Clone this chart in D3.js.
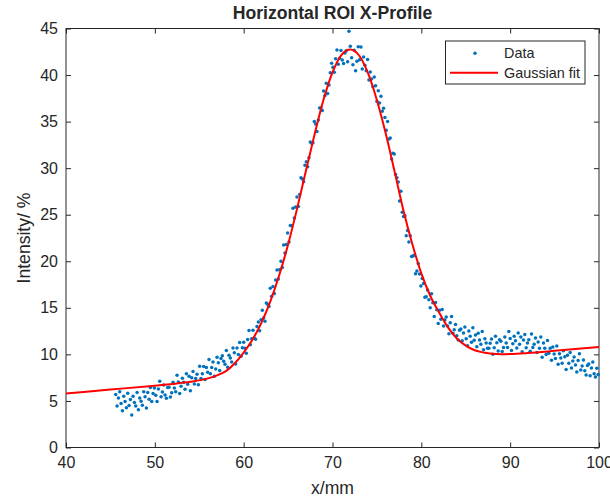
<!DOCTYPE html>
<html>
<head>
<meta charset="utf-8">
<script src="https://cdn.jsdelivr.net/npm/d3@7/dist/d3.min.js"></script>
<style>
  body { margin: 0; background: #fff; }
  text { font-family: "Liberation Sans", Arial, Helvetica, sans-serif; fill: #262626; }
</style>
</head>
<body>
<div id="chart"></div>
<script>
// measured profile (x in mm, intensity in %)
var dataX = [
  45.60, 45.75, 45.90, 46.05, 46.20, 46.35, 46.50, 46.65, 46.80, 46.95,
  47.10, 47.25, 47.40, 47.55, 47.70, 47.85, 48.00, 48.15, 48.30, 48.45,
  48.60, 48.75, 48.90, 49.05, 49.20, 49.35, 49.50, 49.65, 49.80, 49.95,
  50.10, 50.25, 50.40, 50.55, 50.70, 50.85, 51.00, 51.15, 51.30, 51.45,
  51.60, 51.75, 51.90, 52.05, 52.20, 52.35, 52.50, 52.65, 52.80, 52.95,
  53.10, 53.25, 53.40, 53.55, 53.70, 53.85, 54.00, 54.15, 54.30, 54.45,
  54.60, 54.75, 54.90, 55.05, 55.20, 55.35, 55.50, 55.65, 55.80, 55.95,
  56.10, 56.25, 56.40, 56.55, 56.70, 56.85, 57.00, 57.15, 57.30, 57.45,
  57.60, 57.75, 57.90, 58.05, 58.20, 58.35, 58.50, 58.65, 58.80, 58.95,
  59.10, 59.25, 59.40, 59.55, 59.70, 59.85, 60.00, 60.15, 60.30, 60.45,
  60.60, 60.75, 60.90, 61.05, 61.20, 61.35, 61.50, 61.65, 61.80, 61.95,
  62.10, 62.25, 62.40, 62.55, 62.70, 62.85, 63.00, 63.15, 63.30, 63.45,
  63.60, 63.75, 63.90, 64.05, 64.20, 64.35, 64.50, 64.65, 64.80, 64.95,
  65.10, 65.25, 65.40, 65.55, 65.70, 65.85, 66.00, 66.15, 66.30, 66.45,
  66.60, 66.75, 66.90, 67.05, 67.20, 67.35, 67.50, 67.65, 67.80, 67.95,
  68.10, 68.25, 68.40, 68.55, 68.70, 68.85, 69.00, 69.15, 69.30, 69.45,
  69.60, 69.75, 69.90, 70.05, 70.20, 70.35, 70.50, 70.65, 70.80, 70.95,
  71.10, 71.25, 71.40, 71.55, 71.70, 71.85, 72.00, 72.15, 72.30, 72.45,
  72.60, 72.75, 72.90, 73.05, 73.20, 73.35, 73.50, 73.65, 73.80, 73.95,
  74.10, 74.25, 74.40, 74.55, 74.70, 74.85, 75.00, 75.15, 75.30, 75.45,
  75.60, 75.75, 75.90, 76.05, 76.20, 76.35, 76.50, 76.65, 76.80, 76.95,
  77.10, 77.25, 77.40, 77.55, 77.70, 77.85, 78.00, 78.15, 78.30, 78.45,
  78.60, 78.75, 78.90, 79.05, 79.20, 79.35, 79.50, 79.65, 79.80, 79.95,
  80.10, 80.25, 80.40, 80.55, 80.70, 80.85, 81.00, 81.15, 81.30, 81.45,
  81.60, 81.75, 81.90, 82.05, 82.20, 82.35, 82.50, 82.65, 82.80, 82.95,
  83.10, 83.25, 83.40, 83.55, 83.70, 83.85, 84.00, 84.15, 84.30, 84.45,
  84.60, 84.75, 84.90, 85.05, 85.20, 85.35, 85.50, 85.65, 85.80, 85.95,
  86.10, 86.25, 86.40, 86.55, 86.70, 86.85, 87.00, 87.15, 87.30, 87.45,
  87.60, 87.75, 87.90, 88.05, 88.20, 88.35, 88.50, 88.65, 88.80, 88.95,
  89.10, 89.25, 89.40, 89.55, 89.70, 89.85, 90.00, 90.15, 90.30, 90.45,
  90.60, 90.75, 90.90, 91.05, 91.20, 91.35, 91.50, 91.65, 91.80, 91.95,
  92.10, 92.25, 92.40, 92.55, 92.70, 92.85, 93.00, 93.15, 93.30, 93.45,
  93.60, 93.75, 93.90, 94.05, 94.20, 94.35, 94.50, 94.65, 94.80, 94.95,
  95.10, 95.25, 95.40, 95.55, 95.70, 95.85, 96.00, 96.15, 96.30, 96.45,
  96.60, 96.75, 96.90, 97.05, 97.20, 97.35, 97.50, 97.65, 97.80, 97.95,
  98.10, 98.25, 98.40, 98.55, 98.70, 98.85, 99.00, 99.15, 99.30, 99.45,
  99.60, 99.75, 99.90
];
var dataY = [
  5.68, 4.45, 5.32, 5.98, 4.72, 3.96, 5.50, 4.94, 4.28, 5.82,
  4.52, 5.15, 3.50, 5.51, 4.84, 4.47, 5.90, 4.06, 5.32, 4.98,
  4.54, 6.00, 5.46, 4.23, 5.90, 5.18, 6.45, 4.93, 5.80, 6.38,
  5.62, 4.95, 6.28, 7.11, 5.44, 5.97, 6.70, 5.65, 5.29, 6.44,
  6.48, 5.43, 5.87, 7.02, 6.40, 5.98, 7.75, 7.03, 5.80, 6.58,
  7.44, 7.00, 6.26, 7.92, 6.78, 7.64, 6.10, 7.48, 8.15, 6.83,
  7.40, 7.88, 6.75, 8.73, 7.42, 7.91, 8.70, 7.29, 8.58, 8.07,
  9.45, 7.93, 8.60, 9.18, 7.65, 8.43, 9.70, 9.09, 8.28, 9.57,
  9.86, 9.25, 8.94, 10.43, 8.62, 9.91, 9.60, 9.19, 10.68, 10.17,
  8.97, 10.68, 9.98, 11.29, 9.79, 10.70, 11.30, 10.67, 10.13, 11.60,
  12.56, 11.03, 11.69, 12.59, 11.76, 11.63, 13.00, 13.47, 12.54, 13.71,
  14.74, 13.90, 13.56, 15.52, 15.38, 15.14, 17.10, 16.25, 17.30, 16.55,
  18.00, 19.05, 18.10, 19.08, 20.00, 19.33, 21.75, 20.88, 21.80, 23.03,
  22.08, 23.85, 23.82, 25.69, 24.66, 25.83, 26.90, 25.89, 27.17, 28.96,
  28.84, 28.53, 30.31, 30.69, 30.16, 31.13, 32.80, 32.67, 32.74, 35.01,
  34.74, 33.95, 35.16, 36.47, 36.48, 36.19, 38.30, 37.81, 39.12, 38.03,
  38.94, 40.25, 41.26, 40.85, 40.30, 41.75, 42.70, 41.15, 41.80, 42.65,
  41.62, 41.25, 42.38, 42.61, 41.44, 44.70, 43.10, 41.86, 41.11, 42.67,
  40.45, 41.48, 43.03, 41.64, 43.00, 40.65, 41.95, 41.06, 40.46, 41.67,
  39.47, 40.33, 39.58, 38.74, 39.79, 38.85, 37.20, 38.31, 37.01, 37.72,
  36.12, 36.43, 35.43, 34.08, 35.00, 33.13, 33.25, 30.98, 31.60, 31.53,
  29.33, 28.98, 28.52, 26.47, 27.51, 25.26, 24.80, 24.89, 22.74, 23.31,
  22.08, 22.75, 20.52, 20.57, 20.66, 18.66, 18.95, 19.75, 18.64, 17.34,
  18.16, 17.60, 16.14, 16.18, 16.92, 15.86, 15.00, 16.52, 15.54, 14.06,
  15.58, 14.80, 13.32, 14.75, 13.78, 14.82, 13.05, 13.69, 14.02, 13.06,
  12.22, 13.40, 14.08, 12.26, 12.64, 13.22, 12.00, 11.54, 12.58, 12.72,
  11.46, 12.30, 12.94, 11.69, 10.94, 12.50, 11.95, 11.31, 12.86, 11.52,
  12.07, 10.83, 12.28, 11.54, 11.09, 12.45, 10.50, 11.67, 11.22, 10.66,
  10.66, 11.20, 11.64, 10.01, 10.72, 11.94, 11.25, 10.37, 11.58, 11.40,
  10.32, 10.75, 11.88, 11.21, 10.74, 12.47, 11.70, 10.42, 11.13, 11.95,
  11.46, 10.68, 12.29, 11.10, 11.88, 10.27, 11.55, 12.14, 10.72, 11.21,
  11.57, 10.33, 12.18, 10.74, 11.09, 11.75, 10.20, 11.33, 10.65, 11.88,
  9.70, 11.23, 10.65, 9.98, 11.50, 10.13, 10.65, 9.38, 10.80, 10.03,
  9.56, 10.90, 8.94, 10.08, 9.62, 9.06, 10.40, 9.74, 8.38, 9.92,
  9.06, 10.20, 8.54, 9.28, 9.72, 8.86, 8.10, 9.34, 10.08, 8.32,
  8.76, 9.40, 8.24, 7.78, 8.82, 8.96, 7.70, 8.54, 9.18, 7.92,
  7.56, 8.50, 7.84
];

// gaussian fit curve
var fitX = [40, 45, 50, 52, 54, 56, 57, 58, 59, 60, 61, 62, 63, 64, 65, 66, 67, 68, 69, 70,
  71, 72, 73, 74, 75, 76, 77, 78, 79, 80, 81, 82, 83, 84, 85, 86, 87, 88, 89, 90, 92, 95, 100];
var fitY = [5.80, 6.22, 6.64, 6.82, 7.05, 7.42, 7.74, 8.20, 9.05, 10.2, 11.6, 13.4, 15.7, 18.5, 21.8, 25.6, 29.7, 33.7, 37.4, 40.3,
  42.15, 42.75, 42.1, 40.2, 37.3, 33.7, 29.6, 25.4, 21.8, 18.7, 16.3, 14.5, 12.9, 11.7, 10.95, 10.45, 10.2, 10.06, 10.02, 10.04, 10.15, 10.38, 10.80];

var xTicks = [40, 50, 60, 70, 80, 90, 100];
var yTicks = [0, 5, 10, 15, 20, 25, 30, 35, 40, 45];

// plot box in page pixels
var W = 610, H = 500;
var box = { left: 66, right: 599, top: 28.5, bottom: 447.5 };
var axisColor = "#262626";

var svg = d3.select("#chart").append("svg")
  .attr("width", W)
  .attr("height", H);

var x = d3.scaleLinear().domain([40, 100]).range([box.left, box.right]);
var y = d3.scaleLinear().domain([0, 45]).range([box.bottom, box.top]);

// axes, ticks point inward like matlab
function styleAxis(g) {
  g.select(".domain").remove();
  g.selectAll(".tick line").attr("stroke", axisColor);
  g.selectAll(".tick text").style("font-size", "16px").attr("fill", axisColor);
}

svg.append("g")
  .attr("transform", "translate(0," + box.bottom + ")")
  .call(d3.axisBottom(x).tickValues(xTicks).tickSize(-5).tickPadding(9))
  .call(styleAxis);
svg.append("g")
  .attr("transform", "translate(0," + box.top + ")")
  .call(d3.axisTop(x).tickValues(xTicks).tickSize(-5).tickFormat(""))
  .call(styleAxis);
svg.append("g")
  .attr("transform", "translate(" + box.left + ",0)")
  .call(d3.axisLeft(y).tickValues(yTicks).tickSize(-5).tickPadding(8))
  .call(styleAxis);
svg.append("g")
  .attr("transform", "translate(" + box.right + ",0)")
  .call(d3.axisRight(y).tickValues(yTicks).tickSize(-5).tickFormat(""))
  .call(styleAxis);

// the box
svg.append("rect")
  .attr("x", box.left)
  .attr("y", box.top)
  .attr("width", box.right - box.left)
  .attr("height", box.bottom - box.top)
  .attr("fill", "none")
  .attr("stroke", axisColor)
  .attr("stroke-width", 1);

// data points
svg.append("g").selectAll("circle")
  .data(dataX)
  .enter().append("circle")
  .attr("cx", function(d) { return x(d); })
  .attr("cy", function(d, i) { return y(dataY[i]); })
  .attr("r", 1.75)
  .attr("fill", "#0072BD");

// fit line
var line = d3.line()
  .x(function(d) { return x(d); })
  .y(function(d, i) { return y(fitY[i]); })
  .curve(d3.curveMonotoneX);

svg.append("path")
  .attr("d", line(fitX))
  .attr("fill", "none")
  .attr("stroke", "#FF0000")
  .attr("stroke-width", 2);

// titles
svg.append("text")
  .attr("x", (box.left + box.right) / 2)
  .attr("y", 19)
  .attr("text-anchor", "middle")
  .style("font-size", "17.6px")
  .style("font-weight", "bold")
  .attr("fill", "#000")
  .text("Horizontal ROI X-Profile");

svg.append("text")
  .attr("x", (box.left + box.right) / 2)
  .attr("y", 494)
  .attr("text-anchor", "middle")
  .style("font-size", "17.6px")
  .text("x/mm");

svg.append("text")
  .attr("transform", "translate(30," + ((box.top + box.bottom) / 2) + ") rotate(-90)")
  .attr("text-anchor", "middle")
  .style("font-size", "17.6px")
  .text("Intensity/ %");

// legend
var legend = svg.append("g");
legend.append("rect")
  .attr("x", 445.5)
  .attr("y", 41)
  .attr("width", 139.5)
  .attr("height", 43)
  .attr("fill", "#fff")
  .attr("stroke", axisColor)
  .attr("stroke-width", 1);
legend.append("circle")
  .attr("cx", 475)
  .attr("cy", 53.3)
  .attr("r", 1.75)
  .attr("fill", "#0072BD");
legend.append("line")
  .attr("x1", 450).attr("x2", 498)
  .attr("y1", 72.7).attr("y2", 72.7)
  .attr("stroke", "#FF0000")
  .attr("stroke-width", 2);
legend.append("text")
  .attr("x", 504).attr("y", 58.3)
  .style("font-size", "14.4px")
  .attr("fill", "#000")
  .text("Data");
legend.append("text")
  .attr("x", 504).attr("y", 77.7)
  .style("font-size", "14.4px")
  .attr("fill", "#000")
  .text("Gaussian fit");
</script>
</body>
</html>
